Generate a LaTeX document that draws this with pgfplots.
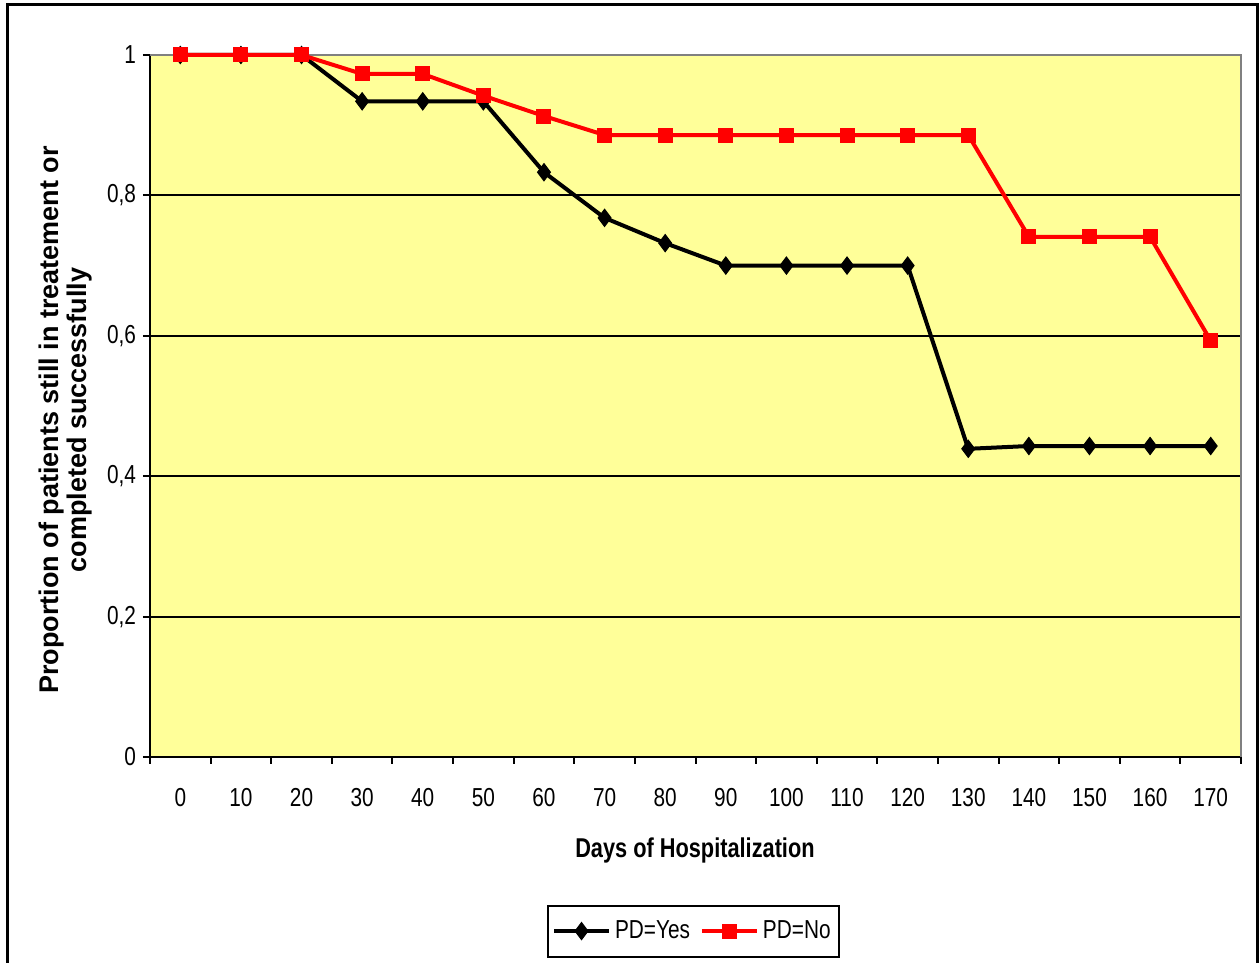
\documentclass[border=0pt]{standalone}
\usepackage{pgfplots}
\pgfplotsset{compat=1.18}
\usepackage{fontspec}
\setmainfont{Liberation Sans}
\newfontfamily\narrowfont[FakeStretch=0.8]{Liberation Sans}
\definecolor{plotbg}{RGB}{255,255,153}
\definecolor{xlred}{RGB}{255,0,0}

\begin{document}
\begin{tikzpicture}[x=0.5pt,y=0.5pt]
% canvas of 1259 x 963 px, one px = 0.5pt
\useasboundingbox (0,0) rectangle (1259,963);
\draw[line width=1.5pt] (7,-10) -- (7,958) -- (1257,958) -- (1257,-10);
\begin{axis}[
    at={(75pt,103pt)}, anchor=south west,
    scale only axis,
    width=545.5pt, height=351pt,
    axis lines=left,
    axis line style={-, line width=1.2pt},
    axis background/.style={fill=plotbg},
    xmin=-0.5, xmax=17.5, ymin=0, ymax=1,
    xtick={-0.5,0.5,...,17.5},
    x tick label as interval,
    xticklabels={0,10,20,30,40,50,60,70,80,90,100,110,120,130,140,150,160,170},
    ytick={0,0.2,0.4,0.6,0.8,1},
    yticklabels={0,{0,2},{0,4},{0,6},{0,8},1},
    ymajorgrids,
    grid style={black, line width=1pt},
    tick align=outside,
    major tick length=3.5pt,
    tick style={black, line width=1pt},
    xticklabel style={font=\narrowfont\fontsize{13}{13}\selectfont, yshift=-8.5pt},
    yticklabel style={font=\narrowfont\fontsize{13}{13}\selectfont},
    xlabel={Days of Hospitalization},
    xlabel style={font=\narrowfont\bfseries\fontsize{13.6}{14}\selectfont,
        at={(axis description cs:0.4995,-0.1335)}, anchor=center},
    ylabel={Proportion of patients still in treatement or\\completed successfully},
    ylabel style={font=\bfseries\fontsize{13.5}{14}\selectfont, align=center,
        at={(axis description cs:-0.077,0.48)}, anchor=center},
    legend columns=2,
    legend style={at={(0.498,-0.248)}, anchor=center, draw=black, line width=1pt,
        font=\narrowfont\fontsize{13}{13}\selectfont,
        inner xsep=2pt, inner ysep=5.5pt,
        /tikz/every even column/.append style={column sep=3pt}},
    legend image code/.code={\draw[mark repeat=2,mark phase=2]
        plot coordinates {(0pt,0pt)(13.75pt,0pt)(27.5pt,0pt)};},
    clip=false,
]
% plot area border (top and right in grey)
\draw[gray, line width=1pt] (rel axis cs:0,1) -- (rel axis cs:1,1) -- (rel axis cs:1,0);
\addplot[black, line width=2pt, mark=diamond*, mark size=4.3pt,
    mark options={solid, fill=black, line width=0.5pt}]
    coordinates {
    (0,1) (1,1) (2,1) (3,0.934) (4,0.934) (5,0.934) (6,0.833) (7,0.768)
    (8,0.732) (9,0.700) (10,0.700) (11,0.700) (12,0.700) (13,0.439)
    (14,0.443) (15,0.443) (16,0.443) (17,0.443)
    };
\addlegendentry{PD=Yes}
\addplot[xlred, line width=2pt, mark=square*, mark size=3.5pt,
    mark options={solid, fill=xlred, line width=0.5pt}]
    coordinates {
    (0,1) (1,1) (2,1) (3,0.973) (4,0.973) (5,0.942) (6,0.913) (7,0.886)
    (8,0.886) (9,0.886) (10,0.886) (11,0.886) (12,0.886) (13,0.886)
    (14,0.741) (15,0.741) (16,0.741) (17,0.593)
    };
\addlegendentry{PD=No}
\end{axis}
\end{tikzpicture}
\end{document}
